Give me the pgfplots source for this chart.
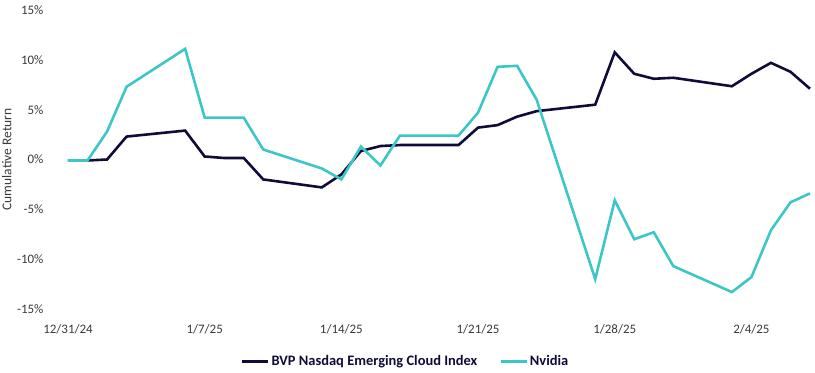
\documentclass[border=0pt]{standalone}
\usepackage{pgfplots}
\pgfplotsset{compat=1.18}
\usepackage{fontspec}
\setmainfont{Carlito}
\definecolor{navy}{HTML}{0F0C3A}
\definecolor{teal}{HTML}{3CC6C8}
\definecolor{txt}{HTML}{3A3A3A}
\pgfplotstableread{
d bvp nv
0 -0.1 -0.1
1 -0.1 -0.1
2 0.0 2.8
3 2.3 7.3
6 2.9 11.1
7 0.3 4.2
8 0.15 4.2
9 0.15 4.2
10 -2.0 1.0
13 -2.8 -0.9
14 -1.5 -2.0
15 0.85 1.3
16 1.35 -0.6
17 1.45 2.4
20 1.45 2.4
21 3.2 4.7
22 3.45 9.3
23 4.3 9.4
24 4.85 6.0
27 5.5 -12.0
28 10.75 -4.1
29 8.6 -8.0
30 8.1 -7.3
31 8.2 -10.7
34 7.35 -13.3
35 8.6 -11.8
36 9.7 -7.1
37 8.8 -4.3
38 7.1 -3.4
}\data
\begin{document}
\begin{tikzpicture}
\begin{axis}[
  scale only axis,
  width=742bp, height=299bp,
  xmin=0, xmax=38, ymin=-15, ymax=15,
  axis line style={draw=none},
  major tick length=0pt,
  clip=false,
  /pgf/number format/assume math mode=true,
  xtick={0,7,14,21,28,35},
  xticklabels={12/31/24,1/7/25,1/14/25,1/21/25,1/28/25,2/4/25},
  ytick={-15,-10,-5,0,5,10,15},
  yticklabels={-15\%,-10\%,-5\%,0\%,5\%,10\%,15\%},
  tick label style={font=\fontsize{13}{15}\selectfont, text=txt},
  yticklabel style={anchor=east, xshift=-21bp},
  xticklabel style={anchor=center, yshift=-20bp},
  ylabel={Cumulative Return},
  ylabel style={font=\fontsize{13.5}{15}\selectfont, text=txt, at={(axis description cs:-0.0825,0.5)}, anchor=center},
  legend style={draw=none, at={(0.455,-0.176)}, anchor=center, legend columns=2,
    font=\fontsize{14.5}{16}\selectfont\bfseries, text=navy,
    /tikz/every even column/.append style={column sep=20bp}},
  legend image code/.code={\draw[#1, line width=2.6bp] (0bp,0bp) -- (26bp,0bp);},
]
\addplot[navy, line width=2.6bp] table[x=d, y=bvp] {\data};
\addlegendentry{BVP Nasdaq Emerging Cloud Index}
\addplot[teal, line width=2.6bp] table[x=d, y=nv] {\data};
\addlegendentry{Nvidia}
\end{axis}
\pgfresetboundingbox
\path ([xshift=-68bp,yshift=-64bp]current axis.south west) rectangle ([xshift=747bp,yshift=309bp]current axis.south west);
\end{tikzpicture}
\end{document}
